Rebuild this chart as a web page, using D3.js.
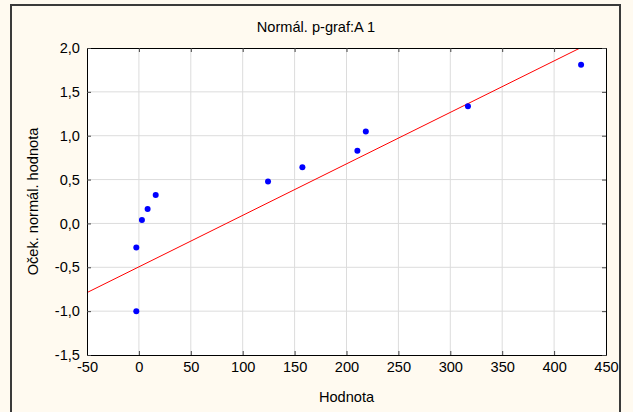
<!DOCTYPE html>
<html>
<head>
<meta charset="utf-8">
<script src="https://cdn.jsdelivr.net/npm/d3@7"></script>
<style>
  html, body { margin: 0; padding: 0; background: #fffaf0; }
  svg { display: block; }
  text { font-family: "Liberation Sans", Arial, sans-serif; fill: #000; }
</style>
</head>
<body>
<script>
const titleText = "Normál. p-graf:A 1";
const xLabel = "Hodnota";
const yLabel = "Oček. normál. hodnota";
const xTicks = [-50, 0, 50, 100, 150, 200, 250, 300, 350, 400, 450];
const yTicks = [-1.5, -1.0, -0.5, 0.0, 0.5, 1.0, 1.5, 2.0];
const xValues = [-2.5, -2.5, 2.9, 8.4, 16.2, 124.4, 157.5, 210.5, 218.6, 317, 426];
const yValues = [-1.0, -0.275, 0.039, 0.164, 0.324, 0.477, 0.64, 0.829, 1.047, 1.335, 1.81];
const fitIntercept = -0.495;
const fitSlope = 0.00587;

const W = 633, H = 412;
const m = { left: 87, right: 606, top: 48, bottom: 355 };
const FS = 14.6;

const svg = d3.select("body").append("svg").attr("width", W).attr("height", H);
svg.append("rect").attr("width", W).attr("height", H).attr("fill", "#fffaf0");
svg.append("rect").attr("x", 11).attr("y", 5).attr("width", 609).attr("height", 430)
  .attr("fill", "#fffaf0").attr("stroke", "#3a3a3a").attr("stroke-width", 2);

const x = d3.scaleLinear().domain([-50, 450]).range([m.left, m.right]);
const y = d3.scaleLinear().domain([-1.5, 2.0]).range([m.bottom, m.top]);

svg.append("rect").attr("x", m.left).attr("y", m.top)
  .attr("width", m.right - m.left).attr("height", m.bottom - m.top).attr("fill", "#fff");

// grid
svg.append("g").selectAll("line").data(xTicks.slice(1, -1)).join("line")
  .attr("x1", d => x(d)).attr("x2", d => x(d)).attr("y1", m.top).attr("y2", m.bottom)
  .attr("stroke", "#dcdcdc").attr("stroke-width", 1);
svg.append("g").selectAll("line").data(yTicks.slice(1, -1)).join("line")
  .attr("y1", d => y(d)).attr("y2", d => y(d)).attr("x1", m.left).attr("x2", m.right)
  .attr("stroke", "#dcdcdc").attr("stroke-width", 1);

// fit line
svg.append("clipPath").attr("id", "clip").append("rect")
  .attr("x", m.left).attr("y", m.top).attr("width", m.right - m.left).attr("height", m.bottom - m.top);
const lx = [-50, 450];
svg.append("line").attr("clip-path", "url(#clip)")
  .attr("x1", x(lx[0])).attr("y1", y(fitIntercept + fitSlope * lx[0]))
  .attr("x2", x(lx[1])).attr("y2", y(fitIntercept + fitSlope * lx[1]))
  .attr("stroke", "#ff0000").attr("stroke-width", 1);

// points
svg.append("g").selectAll("circle").data(xValues).join("circle")
  .attr("cx", (d) => x(d)).attr("cy", (d, i) => y(yValues[i])).attr("r", 3)
  .attr("fill", "#0000ff");

// axes (inward ticks on all sides)
const fmt = d => d3.format(".1f")(d).replace(".", ",").replace("−", "-");
const axB = svg.append("g").attr("transform", `translate(0,${m.bottom})`)
  .call(d3.axisBottom(x).tickValues(xTicks).tickSizeInner(-4).tickSizeOuter(0).tickPadding(7));
const axT = svg.append("g").attr("transform", `translate(0,${m.top})`)
  .call(d3.axisTop(x).tickValues(xTicks).tickSizeInner(-4).tickSizeOuter(0).tickFormat(""));
const axL = svg.append("g").attr("transform", `translate(${m.left},0)`)
  .call(d3.axisLeft(y).tickValues(yTicks).tickSizeInner(-4).tickSizeOuter(0).tickPadding(7).tickFormat(fmt));
const axR = svg.append("g").attr("transform", `translate(${m.right},0)`)
  .call(d3.axisRight(y).tickValues(yTicks).tickSizeInner(-4).tickSizeOuter(0).tickFormat(""));
[axB, axT, axL, axR].forEach(g => {
  g.select(".domain").attr("stroke", "#000").attr("stroke-width", 1);
  g.selectAll(".tick line").attr("stroke", "#444");
  g.selectAll("text").attr("font-size", FS).attr("font-family", '"Liberation Sans", Arial, sans-serif').attr("fill", "#000");
});
axB.selectAll("text").text(d => String(d).replace("−", "-"));

svg.append("text").attr("x", 316).attr("y", 32).attr("text-anchor", "middle")
  .attr("font-size", FS).text(titleText);
svg.append("text").attr("x", (m.left + m.right) / 2).attr("y", 402).attr("text-anchor", "middle")
  .attr("font-size", FS).text(xLabel);
svg.append("text").attr("transform", `translate(38,${(m.top + m.bottom) / 2}) rotate(-90)`)
  .attr("text-anchor", "middle").attr("font-size", FS).text(yLabel);
</script>
</body>
</html>
